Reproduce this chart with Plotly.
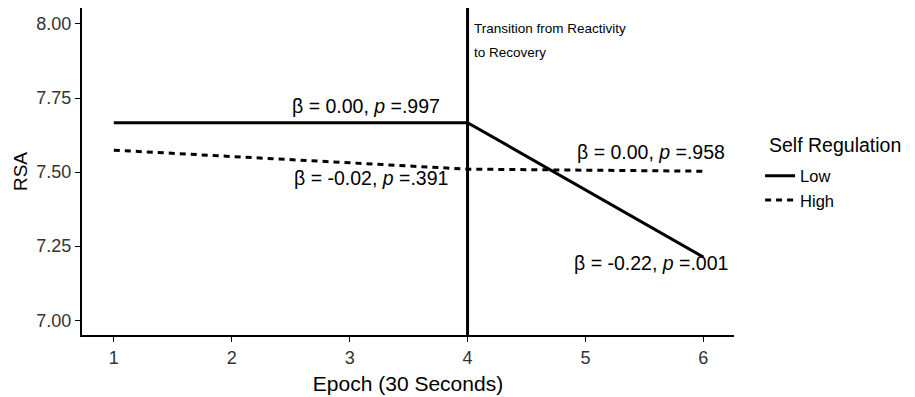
import plotly.graph_objects as go

epochs = [1, 4, 6]
low_rsa = [7.667, 7.667, 7.213]
high_rsa = [7.574, 7.510, 7.503]
transition_epoch = 4

ann_x = [3.14, 3.18, 5.56, 5.56]
ann_y = [7.722, 7.481, 7.569, 7.193]
ann_text = ["β = 0.00, <i>p</i> =.997", "β = -0.02, <i>p</i> =.391",
            "β = 0.00, <i>p</i> =.958", "β = -0.22, <i>p</i> =.001"]
transition_lines = ["Transition from Reactivity", "to Recovery"]

font = "Liberation Sans, Arial, sans-serif"

fig = go.Figure()
fig.add_trace(go.Scatter(x=epochs, y=low_rsa, mode="lines", name="Low",
                         line=dict(color="black", width=3)))
fig.add_trace(go.Scatter(x=epochs, y=high_rsa, mode="lines", name="High",
                         line=dict(color="black", width=3, dash="6px,5px")))

fig.add_shape(type="line", x0=transition_epoch, x1=transition_epoch, y0=0, y1=1,
              xref="x", yref="paper", line=dict(color="black", width=3))
for i, t in enumerate(transition_lines):
    fig.add_annotation(x=transition_epoch, xref="x", xanchor="left", xshift=4,
                       y=1, yref="paper", yanchor="middle", yshift=-20 - 24 * i,
                       text=t, showarrow=False, align="left",
                       font=dict(size=13.5, color="black", family=font))

for x, y, t in zip(ann_x, ann_y, ann_text):
    fig.add_annotation(x=x, y=y, text=t, showarrow=False,
                       font=dict(size=19.5, color="black", family=font))

fig.add_annotation(x=1.05, xref="paper", xanchor="left", y=0.581, yref="paper",
                   yanchor="middle", text="Self Regulation", showarrow=False,
                   font=dict(size=19.5, color="black", family=font))

fig.update_layout(
    width=907, height=389,
    margin=dict(l=74, r=181, t=0, b=62, autoexpand=False),
    plot_bgcolor="white", paper_bgcolor="white",
    font=dict(family=font, color="black"),
    legend=dict(font=dict(size=16.5), x=1.04, xanchor="left", y=0.54, yanchor="top",
                itemwidth=30, tracegroupgap=0),
    xaxis=dict(range=[0.73, 6.26], tickvals=[1, 2, 3, 4, 5, 6],
               showline=True, linecolor="black", linewidth=2, ticks="outside",
               ticklen=5, tickcolor="black", showgrid=False, zeroline=False,
               tickfont=dict(size=18, color="#333"), automargin=False,
               title=dict(text="Epoch (30 Seconds)", font=dict(size=21), standoff=10)),
    yaxis=dict(range=[6.95, 8.054], tickvals=[7.0, 7.25, 7.5, 7.75, 8.0],
               tickformat=".2f", automargin=False,
               showline=True, linecolor="black", linewidth=2, ticks="outside",
               ticklen=5, tickcolor="black", showgrid=False, zeroline=False,
               tickfont=dict(size=18, color="#333"),
               title=dict(text="RSA", font=dict(size=19), standoff=4)),
)

fig.write_html("out.html")
